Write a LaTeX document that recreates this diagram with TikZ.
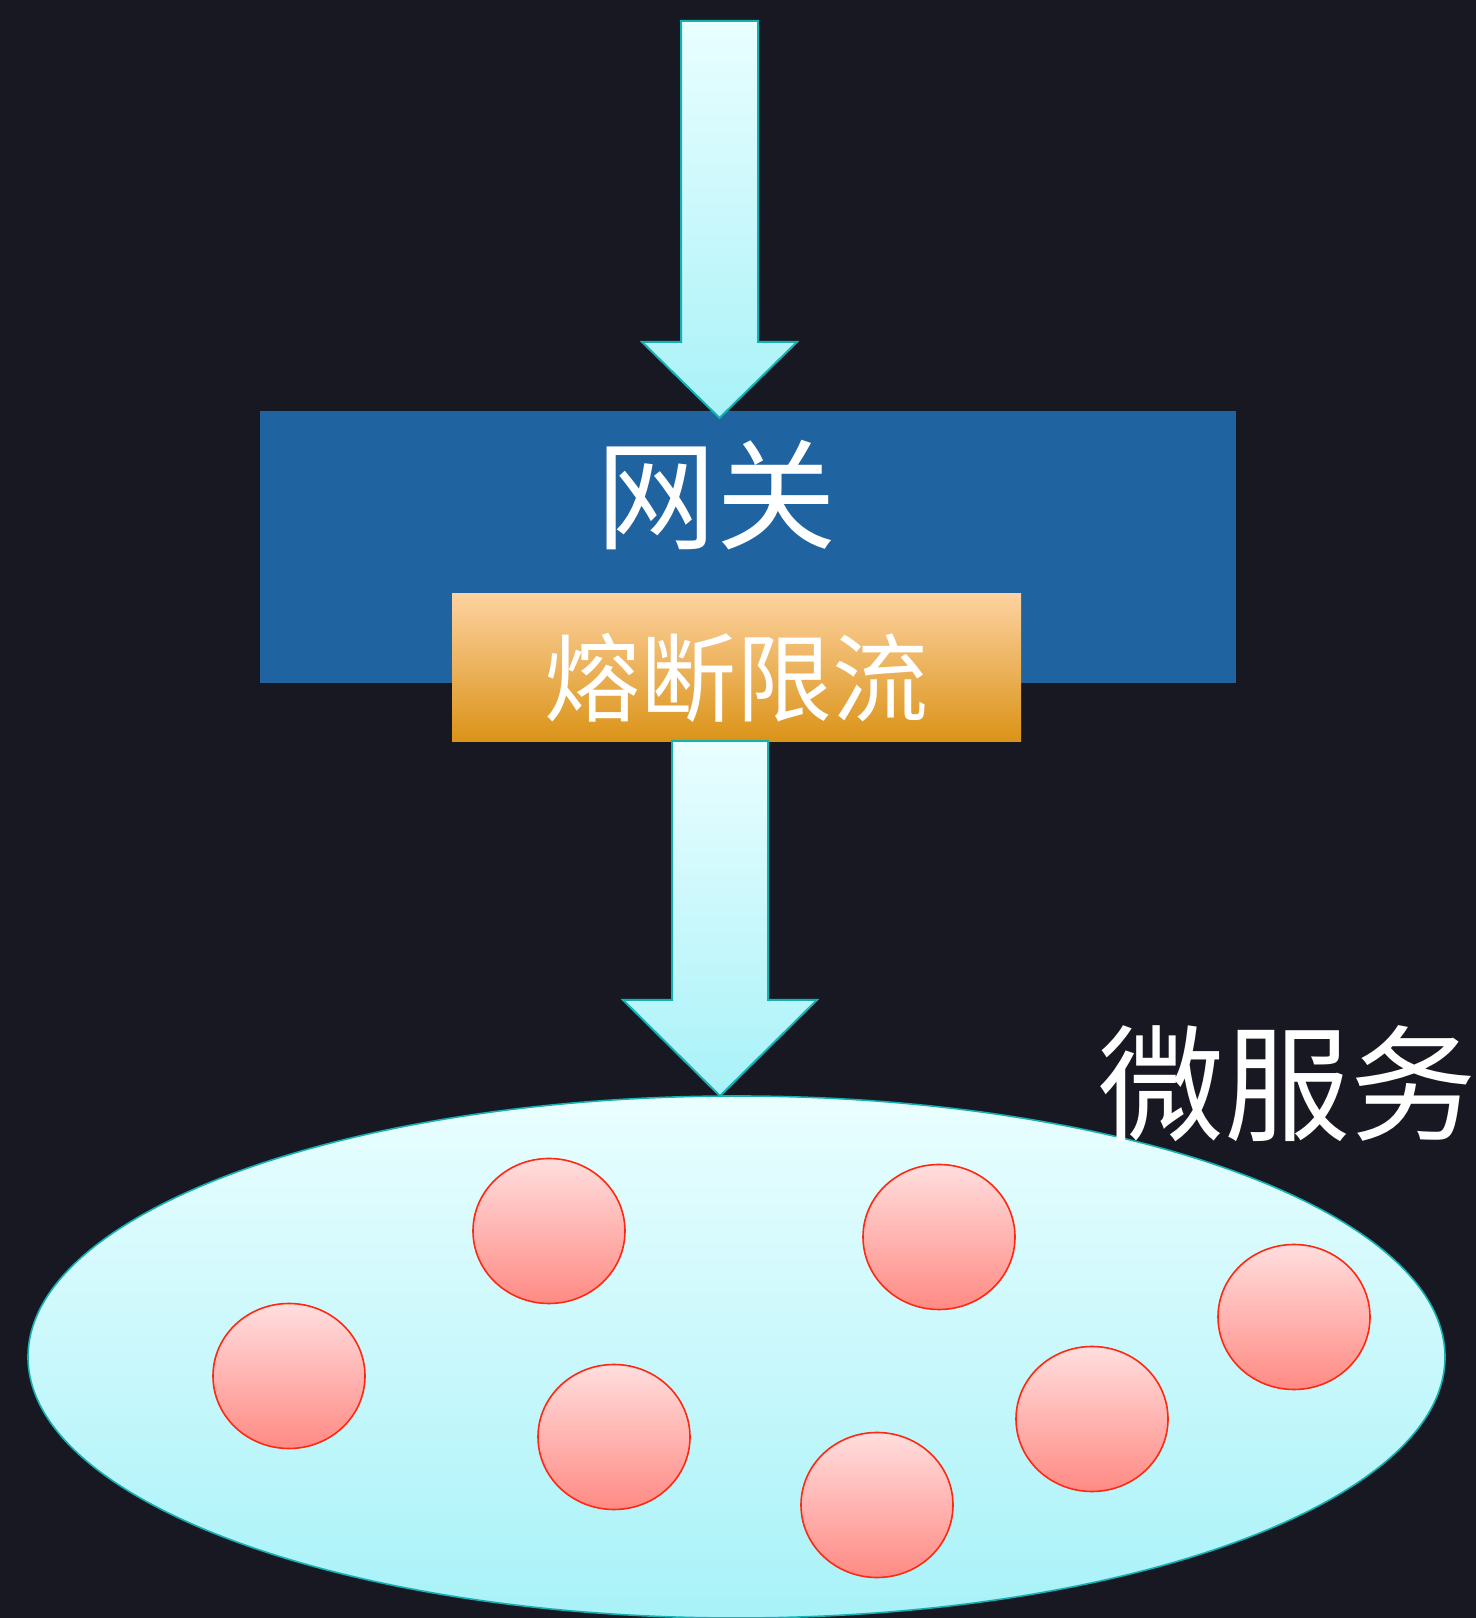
\documentclass[tikz,border=0pt]{standalone}
\usepackage{fontspec}
\newfontfamily\cjk{Noto Sans CJK SC}
\usetikzlibrary{shapes.geometric}
\definecolor{bgc}{RGB}{24,24,34}
\definecolor{gateblue}{RGB}{31,99,160}
\definecolor{orgtop}{RGB}{253,210,160}
\definecolor{orgbot}{RGB}{219,147,23}
\definecolor{arrtop}{RGB}{234,254,255}
\definecolor{arrbot}{RGB}{168,242,248}
\definecolor{arredge}{RGB}{20,176,178}
\definecolor{redtop}{RGB}{255,222,222}
\definecolor{redbot}{RGB}{255,138,132}
\definecolor{rededge}{RGB}{255,40,16}
\tikzset{
  bigarrow/.style={draw=arredge, line width=2pt, top color=arrtop, bottom color=arrbot, line join=miter},
  svc/.style={ellipse, draw=rededge, line width=1.6pt, top color=redtop, bottom color=redbot,
    minimum width=152pt, minimum height=145pt, inner sep=0pt},
  lbl/.style={text=white, font=\cjk, inner sep=0pt}
}
\begin{document}
\begin{tikzpicture}[x=1pt,y=1pt]
\fill[bgc] (0,0) rectangle (1476,1618);
\useasboundingbox (0,0) rectangle (1476,1618);
% gateway
\node[fill=gateblue, minimum width=976pt, minimum height=272pt, inner sep=0pt, anchor=south west] (gw) at (260,935) {};
\node[lbl, font=\cjk\fontsize{120}{120}\selectfont] (gwt) at (716,1123) {网关};
% breaker
\node[top color=orgtop, bottom color=orgbot, minimum width=569pt, minimum height=148pt, inner sep=0pt, anchor=south west] (cb) at (452,876) {};
\node[lbl, font=\cjk\fontsize{96}{96}\selectfont] (cbt) at (736,940) {熔断限流};
% top arrow
\coordinate (in) at (719.5,1597);
\draw[bigarrow] (681,1597) -- (758,1597) -- (758,1276) -- (797,1276) -- (719.5,1200) -- (642,1276) -- (681,1276) -- cycle;
% microservice ellipse
\node[ellipse, draw=arredge, line width=1.6pt, top color=arrtop, bottom color=arrbot,
  minimum width=1417pt, minimum height=522pt, inner sep=0pt] (ms) at (736.5,261) {};
% bottom arrow
\draw[bigarrow] (672,877) -- (768,877) -- (768,618) -- (817,618) -- (720,522) -- (623,618) -- (672,618) -- cycle;
% services
\node[svc] (s1) at (289,242) {};
\node[svc] (s2) at (549,387) {};
\node[svc] (s3) at (939,381) {};
\node[svc] (s4) at (1294,301) {};
\node[svc] (s5) at (614,181) {};
\node[svc] (s6) at (877,113) {};
\node[svc] (s7) at (1092,199) {};
\node[lbl, font=\cjk\fontsize{126}{126}\selectfont] (mst) at (1287,534) {微服务};
\end{tikzpicture}
\end{document}
